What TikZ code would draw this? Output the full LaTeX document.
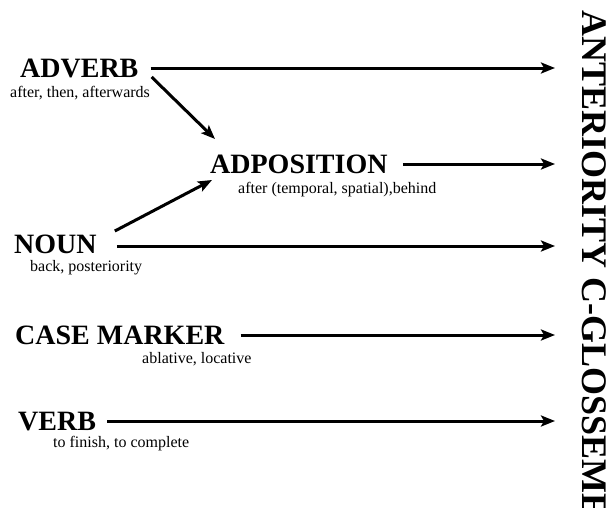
\documentclass[tikz,border=0pt]{standalone}
\usepackage{fontspec}
\setmainfont{Liberation Serif}
\usetikzlibrary{arrows.meta}
\begin{document}
\begin{tikzpicture}[x=1pt,y=-1pt,
  term/.style={anchor=base west,inner sep=0pt,font=\bfseries\fontsize{28}{30}\selectfont},
  gloss/.style={anchor=base west,inner sep=0pt,font=\fontsize{16}{18}\selectfont},
  arr/.style={line width=3pt,-{Stealth[length=14pt,width=11pt,inset=3pt]}}]
\clip (0,0) rectangle (608,507);
\fill[white] (0,0) rectangle (608,507);

% word classes and their glosses
\node[term] (adverb) at (20,77) {ADVERB};
\node[gloss] (adverbg) at (10,97) {after, then, afterwards};
\node[term] (adpos) at (210,173) {ADPOSITION};
\node[gloss] (adposg) at (238,193) {after (temporal, spatial),behind};
\node[term] (noun) at (14,253) {NOUN};
\node[gloss] (noung) at (30,271) {back, posteriority};
\node[term] (case) at (15,344) {CASE MARKER};
\node[gloss] (caseg) at (142,363) {ablative, locative};
\node[term] (verb) at (18,430) {VERB};
\node[gloss] (verbg) at (53,447) {to finish, to complete};

% target label
\node[anchor=base west,inner sep=0pt,rotate=-90,
  font=\bfseries\fontsize{36}{40}\selectfont] (target) at (582,10) {ANTERIORITY C-GLOSSEME};

% arrow tips next to the target
\coordinate (t1) at (555,68);
\coordinate (t2) at (555,164);
\coordinate (t3) at (555,246);
\coordinate (t4) at (555,335);
\coordinate (t5) at (555,421);

\draw[arr] ([xshift=12pt,yshift=9pt]adverb.base east) -- (t1);
\draw[arr] ([xshift=15pt,yshift=9pt]adpos.base east) -- (t2);
\draw[arr] ([xshift=20pt,yshift=7pt]noun.base east) -- (t3);
\draw[arr] ([xshift=16pt,yshift=9pt]case.base east) -- (t4);
\draw[arr] ([xshift=11pt,yshift=9pt]verb.base east) -- (t5);

% paths through the adposition
\draw[arr] ([xshift=13pt]adverb.base east) -- ([xshift=5pt,yshift=34pt]adpos.base west);
\draw[arr] ([xshift=18pt,yshift=22pt]noun.base east) -- ([xshift=2pt,yshift=-7pt]adpos.base west);
\end{tikzpicture}
\end{document}
